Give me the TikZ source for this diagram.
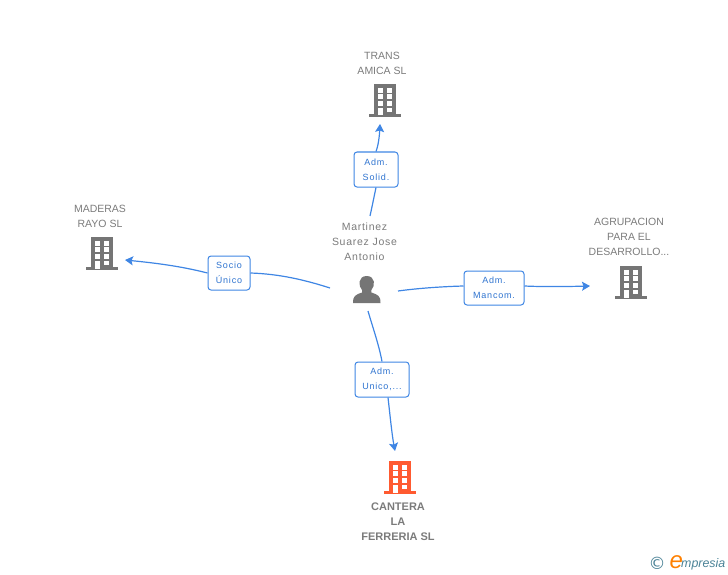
\documentclass[tikz,border=0pt]{standalone}
\usepackage{fontspec}
\setmainfont{Liberation Sans}
\newfontfamily\lblfont[LetterSpace=9]{Liberation Sans}
\newfontfamily\persfont[LetterSpace=7]{Liberation Sans}
\newfontfamily\logofont{DejaVu Sans}
\usetikzlibrary{arrows.meta}
\definecolor{conncol}{HTML}{3F86E4}
\definecolor{lbltxt}{HTML}{2F74D0}
\definecolor{txtcol}{HTML}{7B7B7B}
\definecolor{iconcol}{HTML}{757575}
\definecolor{maincol}{HTML}{FF5A30}
\definecolor{logocol}{HTML}{4A8296}
\tikzset{
  x=1pt,y=-1pt,
  connline/.style={draw=conncol,line width=1.2pt},
  arrline/.style={connline,-{Stealth[length=8pt,width=9pt,inset=1.5pt]}},
  lblbox/.style={draw=conncol,fill=white,rounded corners=3pt,line width=1pt,text=lbltxt,align=center,font=\lblfont\fontsize{9}{15}\selectfont,inner sep=0pt},
  nametxt/.style={text=txtcol,align=center,font=\fontsize{10.5}{15}\selectfont,inner sep=0pt},
  pics/bld/.style={code={
    \fill[#1] (-11,-32) rectangle (11,0);
    \fill[#1] (-16,-2) rectangle (16,1);
    \foreach \yy in {-28,-21.6,-15}{
      \fill[white] (-7,\yy) rectangle (-2.3,\yy+4.6);
      \fill[white] (2.3,\yy) rectangle (7.3,\yy+4.6);
    }
    \fill[white] (-7,-8.3) rectangle (-2.3,-0.5);
    \fill[white] (2.3,-8.3) rectangle (7.3,-3.8);
  }},
}
\begin{document}
\begin{tikzpicture}
\useasboundingbox (0,0) rectangle (728,575);
% buildings
\coordinate (bT) at (385,116);
\coordinate (bL) at (102,269);
\coordinate (bR) at (631,298);
\coordinate (bB) at (400,493);
\pic at (bT) {bld=iconcol};
\pic at (bL) {bld=iconcol};
\pic at (bR) {bld=iconcol};
\pic at (bB) {bld=maincol};
% person
\fill[iconcol] (353,303) .. controls (353,296) and (355,295) .. (362,292.5) -- (362,290) .. controls (358,286) and (358,276) .. (366.7,276) .. controls (375.4,276) and (375.4,286) .. (371.4,290) -- (371.4,292.5) .. controls (378.5,295) and (380.5,296) .. (380.5,303) -- cycle;
% names
\node[nametxt] (nT) at (382,63) {TRANS\\AMICA SL};
\node[nametxt] (nL) at (100,216) {MADERAS\\RAYO SL};
\node[nametxt] (nR) at (629,237) {AGRUPACION\\PARA EL\\DESARROLLO...};
\node[nametxt,font=\fontsize{11}{15}\selectfont\bfseries] (nB) at (398,521.5) {CANTERA\\LA\\FERRERIA SL};
\node[nametxt,font=\persfont\fontsize{10.5}{15}\selectfont] (nP) at (364.5,242) {Martinez\\Suarez Jose\\Antonio};
% labels
\node[lblbox,minimum width=44pt,minimum height=35pt] (lT) at (376,169.5) {Adm.\\Solid.};
\node[lblbox,minimum width=42pt,minimum height=34pt] (lL) at (229,273) {Socio\\Único};
\node[lblbox,minimum width=60pt,minimum height=34pt] (lR) at (494,288) {Adm.\\Mancom.};
\node[lblbox,minimum width=54pt,minimum height=35pt] (lB) at (382,379.5) {Adm.\\Unico,...};
% free ends
\coordinate (pT) at (370,216);
\coordinate (pL) at (330,288);
\coordinate (pR) at (398,291);
\coordinate (pB) at (368,311);
\coordinate (aT) at (380,124);
\coordinate (aL) at (125,260);
\coordinate (aR) at (590,286);
\coordinate (aB) at (395,451);
% connectors
\path[connline] (pT) .. controls (372,207) and (374,197) .. (lT.south);
\path[arrline] (lT.north) .. controls (378.5,145) and (379.5,135) .. (aT);
\path[connline] (pL) .. controls (305,280) and (280,274) .. (lL.east);
\path[arrline] (lL.west) .. controls (180,266) and (155,263) .. (aL);
\path[connline] (pR) .. controls (420,288) and (445,286.5) .. ([yshift=2pt]lR.west);
\path[arrline] ([yshift=2pt]lR.east) .. controls (545,287) and (570,286.5) .. (aR);
\path[connline] (pB) .. controls (372,325) and (379,345) .. (lB.north);
\path[arrline] ([xshift=6pt]lB.south) .. controls (390,415) and (392,435) .. (aB);
% logo
\node[inner sep=0pt,text=logocol,font=\logofont\fontsize{17}{17}\selectfont] (cp) at (657,563.5) {©};
\node[inner sep=0pt,anchor=west,text=orange,font=\itshape\fontsize{24}{24}\selectfont] (le) at (669.5,562) {e};
\node[inner sep=0pt,anchor=west,text=logocol,font=\itshape\fontsize{12.4}{13}\selectfont] (lt) at (681,564.5) {mpresia};
\end{tikzpicture}
\end{document}
